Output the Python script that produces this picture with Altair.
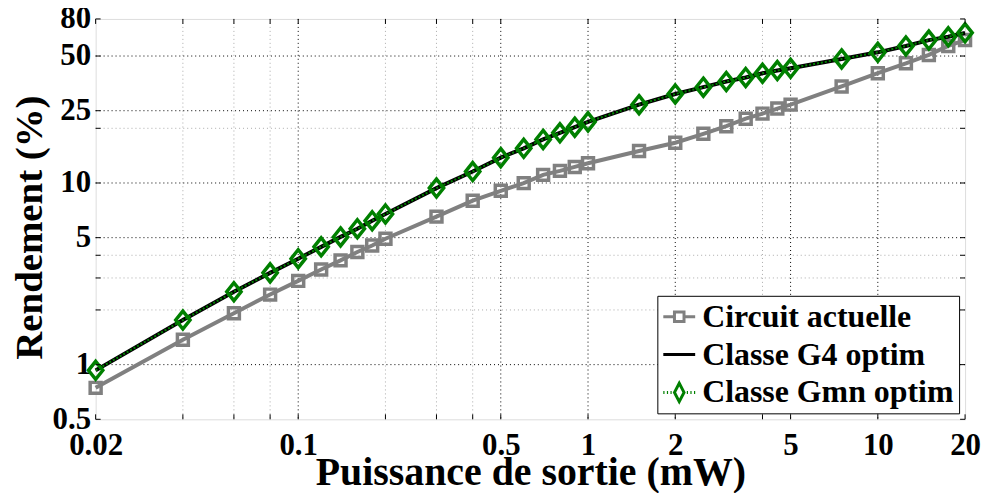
import altair as alt
import pandas as pd

# ---- data ----
power = [0.02, 0.04, 0.06, 0.08, 0.1, 0.12, 0.14, 0.16, 0.18, 0.2, 0.3, 0.4, 0.5, 0.6,
         0.7, 0.8, 0.9, 1, 1.5, 2, 2.5, 3, 3.5, 4, 4.5, 5, 7.5, 10, 12.5, 15, 17.5, 20]
circuit = [0.745, 1.37, 1.92, 2.43, 2.89, 3.34, 3.75, 4.17, 4.53, 4.93, 6.53, 7.99, 9.06, 9.98,
           11.08, 11.66, 12.26, 12.85, 15.0, 16.66, 18.65, 20.55, 22.6, 24.1, 25.7, 27.0, 34.0,
           40.2, 45.6, 50.7, 56.8, 61.2]
g4 = [0.93, 1.76, 2.52, 3.2, 3.83, 4.45, 5.05, 5.6, 6.2, 6.75, 9.37, 11.56, 13.79, 15.51,
      17.38, 18.9, 20.3, 21.7, 27.0, 30.9, 33.7, 36.2, 38.1, 40.2, 41.6, 42.8, 48.2, 52.4,
      56.8, 61.2, 63.8, 67.1]
gmn = [0.93, 1.76, 2.52, 3.2, 3.83, 4.45, 5.05, 5.6, 6.2, 6.75, 9.37, 11.56, 13.79, 15.51,
       17.38, 18.9, 20.3, 21.7, 27.0, 30.9, 33.7, 36.2, 38.1, 40.2, 41.6, 42.8, 48.2, 52.4,
       56.8, 61.2, 63.8, 67.1]
series_names = ["Circuit actuelle", "Classe G4 optim", "Classe Gmn optim"]

x_ticks = [0.02, 0.1, 0.5, 1, 2, 5, 10, 20]
y_ticks = [0.5, 1, 5, 10, 25, 50, 80]
x_major_grid = [0.1, 0.5, 1, 2, 5, 10]
x_minor_grid = [0.04, 0.06, 0.08, 0.2, 0.3, 0.4, 4]
y_major_grid = [1, 5, 10, 25, 50]
y_minor_grid = [2, 3, 4, 20]

W, H = 873, 402
FONT = "Liberation Serif"

xs = alt.Scale(type="log", domain=[0.02, 20], nice=False)
ys = alt.Scale(type="log", domain=[0.5, 80], nice=False)

df = pd.DataFrame({
    "p": power * 3,
    "r": circuit + g4 + gmn,
    "s": [series_names[0]] * len(power) + [series_names[1]] * len(power) + [series_names[2]] * len(power),
})

x_axis = alt.Axis(values=x_ticks, format="~g", grid=False, ticks=False, domain=False,
                  labelFont=FONT, labelFontWeight="bold", labelFontSize=31, labelColor="black",
                  labelPadding=11, labelFlush=False, labelOverlap=False,
                  title="Puissance de sortie (mW)", titleFont=FONT, titleFontWeight="bold",
                  titleFontSize=40, titleColor="black", titleY=65, titleBaseline="alphabetic")
y_axis = alt.Axis(values=y_ticks, format="~g", grid=False, ticks=False, domain=False,
                  labelFont=FONT, labelFontWeight="bold", labelFontSize=31, labelColor="black",
                  labelPadding=5, labelFlush=False, labelOverlap=False,
                  title="Rendement (%)", titleFont=FONT, titleFontWeight="bold",
                  titleFontSize=39, titleColor="black", titleX=-66, titleY=209,
                  titleBaseline="middle", titleAlign="center", titleAngle=-90)

def X(f):
    return alt.X(f, scale=xs, axis=x_axis)

def Y(f):
    return alt.Y(f, scale=ys, axis=y_axis)

def gx(vals):
    return alt.Chart(pd.DataFrame({"v": vals}))

dot = [1, 3]
grid_layers = [
    gx(x_minor_grid).mark_rule(color="#aaaaaa", strokeDash=dot, strokeWidth=1).encode(x=X("v:Q")),
    gx(y_minor_grid).mark_rule(color="#aaaaaa", strokeDash=dot, strokeWidth=1).encode(y=Y("v:Q")),
    gx(x_major_grid).mark_rule(color="black", strokeDash=dot, strokeWidth=1).encode(x=X("v:Q")),
    gx(y_major_grid).mark_rule(color="black", strokeDash=dot, strokeWidth=1).encode(y=Y("v:Q")),
]

all_x_ticks = sorted(set(x_ticks + x_major_grid + x_minor_grid))
all_y_ticks = sorted(set(y_ticks + y_major_grid + y_minor_grid))
tick_layers = [
    gx(all_x_ticks).mark_rule(color="black", strokeWidth=1).encode(
        x=X("v:Q"), y=alt.value(0), y2=alt.value(5)),
    gx(all_x_ticks).mark_rule(color="black", strokeWidth=1).encode(
        x=X("v:Q"), y=alt.value(H), y2=alt.value(H - 5)),
    gx(all_y_ticks).mark_rule(color="black", strokeWidth=1).encode(
        y=Y("v:Q"), x=alt.value(0), x2=alt.value(5)),
    gx(all_y_ticks).mark_rule(color="black", strokeWidth=1).encode(
        y=Y("v:Q"), x=alt.value(W), x2=alt.value(W - 5)),
]

# marker shapes (custom paths, unit = sqrt(size)/2 px)
sq_data = "M-0.61,-0.61L0.61,-0.61L0.61,0.61L-0.61,0.61Z"
dm_data = "M0,-1L0.8,0L0,1L-0.8,0Z"
MSIZE = 324

base = alt.Chart(df)
circ = base.transform_filter(alt.datum.s == series_names[0])
g4c = base.transform_filter(alt.datum.s == series_names[1])
gmnc = base.transform_filter(alt.datum.s == series_names[2])

line_circ = circ.mark_line(color="#808080", strokeWidth=4).encode(x=X("p:Q"), y=Y("r:Q"))
pts_circ = circ.mark_point(shape=sq_data, size=MSIZE, filled=False, color="#808080",
                           strokeWidth=3.5, opacity=1).encode(x=X("p:Q"), y=Y("r:Q"))
line_g4 = g4c.mark_line(color="black", strokeWidth=4).encode(x=X("p:Q"), y=Y("r:Q"))
line_gmn = gmnc.mark_line(color="#008000", strokeWidth=2, strokeDash=[2, 2]).encode(
    x=X("p:Q"), y=Y("r:Q"))
pts_gmn = gmnc.mark_point(shape=dm_data, size=MSIZE, filled=False, color="#008000",
                          strokeWidth=3.5, opacity=1).encode(x=X("p:Q"), y=Y("r:Q"))

# legend symbols: line stub + marker
sq_leg = "M-2,0L-0.6,0M0.6,0L2,0M-0.6,-0.6L0.6,-0.6L0.6,0.6L-0.6,0.6Z"
g4_leg = "M-2,0L2,0"
dm_leg = ("M-2,0L-1.85,0M-1.55,0L-1.4,0M-1.1,0L-0.95,0M0.95,0L1.1,0M1.4,0L1.55,0M1.85,0L2,0"
          "M0,-1.15L0.6,0L0,1.15L-0.6,0Z")
legend = alt.Legend(title=None, orient="bottom-right", offset=6, fillColor="white",
                    strokeColor="black", padding=5, labelFont=FONT, labelFontWeight="bold",
                    labelFontSize=32, labelColor="black", labelLimit=0, labelOffset=7,
                    symbolOffset=1, symbolSize=256, symbolStrokeWidth=3, rowPadding=6)
legend_layer = base.transform_filter("false").mark_point(filled=False, strokeWidth=3, opacity=1).encode(
    color=alt.Color("s:N", scale=alt.Scale(domain=series_names,
                                           range=["#808080", "black", "#008000"]), legend=legend),
    shape=alt.Shape("s:N", scale=alt.Scale(domain=series_names,
                                           range=[sq_leg, g4_leg, dm_leg]), legend=legend),
)

chart = alt.layer(*grid_layers, line_circ, pts_circ, line_g4, line_gmn, pts_gmn, legend_layer,
                  *tick_layers).properties(
    width=W, height=H,
    autosize=alt.AutoSizeParams(type="none"),
    padding={"left": 88, "top": 10, "right": 16, "bottom": 73},
).configure_view(stroke="black", strokeWidth=1.5).configure(background="white")

chart.save("out.html", embed_options={"renderer": "svg", "actions": False})
